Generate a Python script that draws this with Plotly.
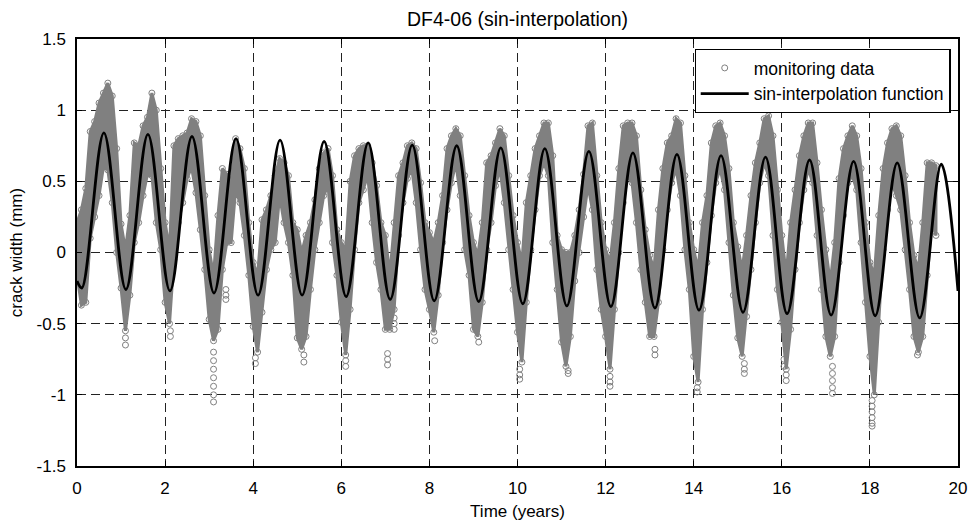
import plotly.graph_objects as go

# ---- monitoring data: sampled every 0.1 year from 0.0 to 19.5, upper / lower edge of the data cloud
t_data = [round(i * 0.1, 1) for i in range(196)]

upper = [
    0.21, 0.30, 0.45, 0.85, 0.92, 1.05, 1.12, 1.19, 1.10, 0.73,
    0.20, 0.02, 0.26, 0.77, 0.75, 0.89, 0.95, 1.12, 1.00, 0.59,
    0.21, 0.02, 0.75, 0.80, 0.82, 0.84, 0.94, 0.92, 0.82, 0.40,
    0.02, -0.16, 0.26, 0.59, 0.55, 0.50, 0.80, 0.73, 0.59, 0.21,
    -0.07, -0.16, 0.23, 0.30, 0.40, 0.54, 0.66, 0.63, 0.54, 0.21,
    0.16, 0.00, 0.12, 0.21, 0.37, 0.59, 0.70, 0.73, 0.54, 0.16,
    0.07, 0.02, 0.50, 0.68, 0.73, 0.75, 0.75, 0.63, 0.47, 0.21,
    0.12, -0.16, 0.21, 0.54, 0.63, 0.75, 0.77, 0.73, 0.49, 0.21,
    0.14, 0.07, 0.21, 0.40, 0.73, 0.82, 0.87, 0.82, 0.54, 0.26,
    0.07, -0.02, 0.21, 0.63, 0.68, 0.77, 0.87, 0.82, 0.54, 0.26,
    0.07, -0.07, 0.35, 0.54, 0.73, 0.82, 0.91, 0.91, 0.68, 0.12,
    0.02, 0.00, 0.00, 0.12, 0.30, 0.55, 0.89, 0.91, 0.54, 0.21,
    0.02, -0.07, 0.21, 0.59, 0.89, 0.91, 0.91, 0.82, 0.44, 0.16,
    -0.02, -0.12, 0.30, 0.59, 0.77, 0.82, 0.94, 0.91, 0.54, 0.21,
    0.02, -0.12, 0.21, 0.40, 0.77, 0.89, 0.91, 0.82, 0.59, 0.21,
    0.04, -0.12, 0.12, 0.40, 0.63, 0.77, 0.94, 0.96, 0.82, 0.44,
    0.12, -0.16, 0.21, 0.44, 0.68, 0.82, 0.91, 0.91, 0.63, 0.30,
    0.02, -0.21, 0.07, 0.52, 0.73, 0.82, 0.89, 0.82, 0.59, 0.21,
    -0.07, -0.16, 0.26, 0.59, 0.77, 0.87, 0.89, 0.82, 0.54, 0.21,
    -0.02, -0.12, 0.21, 0.63, 0.63, 0.61,
]

lower = [
    -0.16, -0.37, -0.35, 0.10, 0.25, 0.40, 0.60, 0.58, 0.35, 0.00,
    -0.25, -0.55, -0.30, 0.07, 0.21, 0.40, 0.55, 0.54, 0.21, 0.02,
    -0.35, -0.50, -0.05, 0.21, 0.35, 0.52, 0.60, 0.42, 0.16, -0.12,
    -0.47, -0.62, -0.54, -0.12, 0.07, 0.07, 0.44, 0.35, 0.12, -0.16,
    -0.52, -0.70, -0.42, -0.12, 0.02, 0.07, 0.40, 0.21, 0.07, -0.16,
    -0.60, -0.68, -0.59, -0.26, 0.02, 0.21, 0.40, 0.47, 0.07, -0.16,
    -0.49, -0.72, -0.40, 0.02, 0.35, 0.44, 0.54, 0.21, -0.07, -0.26,
    -0.54, -0.54, -0.40, 0.12, 0.35, 0.52, 0.59, 0.35, 0.02, -0.26,
    -0.40, -0.56, -0.30, 0.07, 0.30, 0.49, 0.63, 0.40, 0.02, -0.16,
    -0.54, -0.59, -0.35, 0.02, 0.21, 0.47, 0.59, 0.35, 0.02, -0.26,
    -0.56, -0.77, -0.35, 0.02, 0.30, 0.54, 0.63, 0.54, 0.07, -0.26,
    -0.63, -0.80, -0.59, -0.20, 0.00, 0.25, 0.47, 0.30, -0.12, -0.40,
    -0.59, -0.82, -0.40, 0.00, 0.35, 0.54, 0.49, 0.21, -0.12, -0.35,
    -0.59, -0.59, -0.35, 0.02, 0.30, 0.49, 0.59, 0.40, 0.02, -0.26,
    -0.73, -0.91, -0.40, -0.07, 0.26, 0.49, 0.59, 0.44, 0.07, -0.30,
    -0.60, -0.73, -0.45, -0.12, 0.21, 0.49, 0.63, 0.54, 0.12, -0.26,
    -0.49, -0.82, -0.54, -0.12, 0.21, 0.44, 0.59, 0.49, 0.12, -0.26,
    -0.59, -0.73, -0.59, -0.07, 0.26, 0.49, 0.54, 0.44, 0.07, -0.35,
    -0.73, -1.00, -0.49, 0.02, 0.30, 0.49, 0.40, 0.30, 0.02, -0.26,
    -0.59, -0.70, -0.59, -0.16, 0.21, 0.12,
]

# isolated monitoring points below the cloud (winter dips)
spike_x = [1.1, 1.1, 2.12, 2.12,
           3.1, 3.1, 3.1, 3.1, 3.1, 3.1, 3.1,
           3.38, 3.38, 3.38, 4.05, 4.05, 5.15, 5.15, 6.1, 6.1,
           7.05, 7.05, 7.05, 7.2, 7.2, 7.2, 8.12, 9.12,
           10.05, 10.05, 10.05, 11.15, 11.15, 12.1, 12.1, 12.1,
           13.12, 13.12, 14.08, 14.08, 15.15, 15.15, 15.15,
           16.05, 16.05, 16.1, 16.1,
           17.15, 17.15, 17.15, 17.15, 17.15,
           18.05, 18.05, 18.05, 18.05, 18.05, 18.05, 19.08]
spike_y = [-0.60, -0.65, -0.55, -0.59,
           -0.70, -0.76, -0.82, -0.88, -0.94, -1.00, -1.05,
           -0.26, -0.30, -0.33, -0.74, -0.78, -0.72, -0.77, -0.76, -0.80,
           -0.71, -0.75, -0.79, -0.46, -0.50, -0.54, -0.62, -0.63,
           -0.82, -0.86, -0.89, -0.83, -0.85, -0.87, -0.91, -0.94,
           -0.68, -0.72, -0.95, -0.98, -0.78, -0.82, -0.85,
           -0.75, -0.80, -0.86, -0.90,
           -0.80, -0.85, -0.90, -0.95, -0.99,
           -1.04, -1.08, -1.12, -1.16, -1.20, -1.22, -0.72]

# ---- sin-interpolation function: start, troughs / peaks, end
line_x = [0.0, 0.11, 0.61, 1.11, 1.61, 2.11, 2.61, 3.11, 3.61, 4.11, 4.61,
          5.11, 5.61, 6.11, 6.61, 7.11, 7.61, 8.11, 8.62, 9.12, 9.62,
          10.12, 10.62, 11.12, 11.62, 12.12, 12.62, 13.12, 13.62, 14.12, 14.62,
          15.12, 15.63, 16.12, 16.63, 17.12, 17.63, 18.12, 18.62, 19.13, 19.62, 20.0]
line_y = [-0.20, -0.25, 0.84, -0.26, 0.83, -0.27, 0.815, -0.285, 0.80, -0.30, 0.79,
          -0.30, 0.78, -0.31, 0.77, -0.33, 0.755, -0.34, 0.75, -0.345, 0.735,
          -0.36, 0.73, -0.375, 0.71, -0.38, 0.70, -0.39, 0.69, -0.405, 0.68,
          -0.42, 0.67, -0.43, 0.65, -0.44, 0.64, -0.445, 0.63, -0.46, 0.62, -0.27]

x_ticks = [0, 2, 4, 6, 8, 10, 12, 14, 16, 18, 20]
x_ticktext = ["0", "2", "4", "6", "8", "10", "12", "14", "16", "18", "20"]
y_ticks = [-1.5, -1.0, -0.5, 0.0, 0.5, 1.0, 1.5]
y_ticktext = ["-1.5", "-1", "-0.5", "0", "0.5", "1", "1.5"]

GRAY = "#808080"
FONT = "Liberation Sans, Arial, Helvetica, sans-serif"

fig = go.Figure()

# dense cloud of the monitoring data
fig.add_trace(go.Scatter(
    x=t_data + t_data[::-1], y=upper + lower[::-1],
    mode="lines", fill="toself", fillcolor=GRAY,
    line=dict(width=3, color=GRAY), showlegend=False, hoverinfo="skip"))

# individual circles (edge of the cloud and isolated dips)
fig.add_trace(go.Scatter(
    x=t_data + t_data + spike_x, y=upper + lower + spike_y,
    mode="markers", name="monitoring data",
    marker=dict(symbol="circle-open", size=6, color=GRAY, line=dict(width=1, color=GRAY))))

fig.add_trace(go.Scatter(
    x=line_x, y=line_y, mode="lines", name="sin-interpolation function",
    line=dict(color="black", width=2.8, shape="spline", smoothing=1.0)))

axis_common = dict(
    showline=True, linecolor="black", linewidth=1.5, mirror="ticks",
    ticks="inside", ticklen=5, tickcolor="black", tickwidth=1,
    showgrid=True, gridcolor="#222222", gridwidth=1, griddash="9px,5px",
    zeroline=False, tickfont=dict(family=FONT, size=17, color="black"),
    ticklabelstandoff=6, automargin=False,
)

fig.update_layout(
    width=972, height=523,
    margin=dict(l=77, r=14, t=39, b=57),
    paper_bgcolor="white", plot_bgcolor="white",
    font=dict(family=FONT, size=17, color="black"),
    title=dict(text="DF4-06 (sin-interpolation)", x=0.5, xref="paper", xanchor="center",
               y=1 - 19 / 523, yref="container", yanchor="middle",
               font=dict(family=FONT, size=19.5, color="black")),
    xaxis=dict(range=[0, 20], tickvals=x_ticks, ticktext=x_ticktext,
               title=dict(text="Time (years)", standoff=8, font=dict(family=FONT, size=17)),
               **axis_common),
    yaxis=dict(range=[-1.5, 1.5], tickvals=y_ticks, ticktext=y_ticktext,
               title=dict(text="crack width (mm)", standoff=10, font=dict(family=FONT, size=17)),
               **axis_common),
    legend=dict(x=0.9915, y=0.977, xanchor="right", yanchor="top",
                bgcolor="white", bordercolor="black", borderwidth=1.2,
                font=dict(family=FONT, size=17.5, color="black"),
                itemwidth=48, tracegroupgap=0),
    showlegend=True,
)

fig.write_html("out.html")
